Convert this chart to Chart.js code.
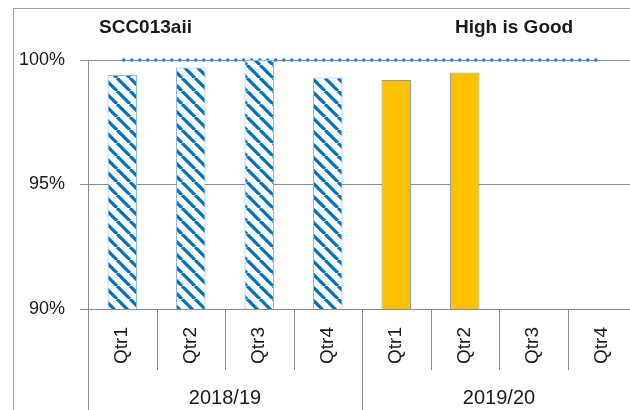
<!DOCTYPE html>
<html>
<head>
<meta charset="utf-8">
<script src="https://cdn.jsdelivr.net/npm/chart.js@4"></script>
<style>
  html, body { margin: 0; padding: 0; overflow: hidden; background: #fff; }
  #wrap { position: absolute; left: 0; top: 0; width: 650px; height: 430px; }
</style>
</head>
<body>
<div id="wrap"><canvas id="c" width="650" height="430"></canvas></div>
<script>
// data
const quarters = ['Qtr1', 'Qtr2', 'Qtr3', 'Qtr4', 'Qtr1', 'Qtr2', 'Qtr3', 'Qtr4'];
const years = ['2018/19', '2019/20'];
const values2018 = [99.4, 99.7, 100.0, 99.3];
const values2019 = [99.2, 99.5, null, null];
const target = [100, 100, 100, 100, 100, 100, 100, 100];
const yTicks = [90, 95, 100];
const titleLeft = 'SCC013aii';
const titleRight = 'High is Good';

const FONT = '"Liberation Sans", Arial, sans-serif';

function hatch() {
    const s = 13;
    const c = document.createElement('canvas');
    c.width = s; c.height = s;
    const g = c.getContext('2d');
    g.fillStyle = '#fff';
    g.fillRect(0, 0, s, s);
    g.strokeStyle = '#0070C0';
    g.lineWidth = 3.2;
    g.beginPath();
    for (let o = -s; o <= s; o += s) {
        g.moveTo(o, 0);
        g.lineTo(o + s, s);
    }
    g.stroke();
    return g.createPattern(c, 'repeat');
}

const pad = n => Array(n).fill(null);

const extras = {
    id: 'extras',
    afterDraw(chart) {
        const ctx = chart.ctx;
        const x = chart.scales.x;
        const area = chart.chartArea;
        const step = (x.right - x.left) / quarters.length;
        ctx.save();

        // outer frame
        ctx.strokeStyle = '#a6a6a6';
        ctx.lineWidth = 1;
        ctx.strokeRect(13.5, 8.5, 800, 600);

        // titles
        ctx.fillStyle = '#1a1a1a';
        ctx.font = 'bold 19px ' + FONT;
        ctx.textBaseline = 'alphabetic';
        ctx.textAlign = 'left';
        ctx.fillText(titleLeft, 99, 33);
        ctx.fillText(titleRight, 455, 33);

        // category dividers
        ctx.strokeStyle = '#8c8c8c';
        ctx.beginPath();
        ctx.moveTo(Math.round(x.left) + 0.5, area.bottom);
        ctx.lineTo(Math.round(x.left) + 0.5, 440);
        for (let i = 1; i < quarters.length; i++) {
            const px = Math.round(x.left + i * step) + 0.5;
            ctx.moveTo(px, area.bottom);
            ctx.lineTo(px, i % 4 === 0 ? 440 : area.bottom + 61);
        }
        ctx.stroke();

        // year labels
        ctx.font = '20px ' + FONT;
        ctx.textAlign = 'center';
        years.forEach((yr, k) => {
            const cx = (x.getPixelForValue(k * 4 + 1) + x.getPixelForValue(k * 4 + 2)) / 2;
            ctx.fillText(yr, cx, 404);
        });
        ctx.restore();
    }
};

new Chart(document.getElementById('c'), {
    type: 'bar',
    data: {
        labels: quarters,
        datasets: [
            {
                type: 'line',
                label: 'Target',
                data: target,
                borderColor: '#1f78c8',
                borderWidth: 3,
                borderDash: [3, 5],
                pointRadius: 0,
                fill: false,
                clip: false,
                order: 2
            },
            {
                label: years[0],
                data: values2018.concat(pad(4)),
                backgroundColor: hatch(),
                borderColor: '#8db8e2',
                borderWidth: 1,
                order: 1
            },
            {
                label: years[1],
                data: pad(4).concat(values2019),
                backgroundColor: '#FFC000',
                borderColor: '#86a3a3',
                borderWidth: 1,
                order: 1
            }
        ]
    },
    options: {
        responsive: false,
        animation: false,
        events: [],
        layout: { padding: { top: 60, right: 14, bottom: 60, left: 0 } },
        datasets: { bar: { grouped: false, categoryPercentage: 1, barPercentage: 0.43 } },
        plugins: { legend: { display: false }, tooltip: { enabled: false } },
        scales: {
            x: {
                offset: true,
                grid: { display: false, drawTicks: false },
                border: { display: false },
                ticks: {
                    autoSkip: false,
                    minRotation: 90,
                    maxRotation: 90,
                    padding: 18,
                    color: '#1a1a1a',
                    font: { family: FONT, size: 19 }
                },
                afterFit: s => { s.height = 61; }
            },
            y: {
                min: 90,
                max: 100,
                afterBuildTicks: s => { s.ticks = yTicks.map(v => ({ value: v })); },
                grid: { color: '#8c8c8c', lineWidth: 1, tickLength: 8 },
                border: { display: true, color: '#8c8c8c', width: 1 },
                ticks: {
                    padding: 15,
                    color: '#1a1a1a',
                    font: { family: FONT, size: 18 },
                    callback: v => v + '%'
                },
                afterFit: s => { s.width = 88; }
            }
        }
    },
    plugins: [extras]
});
</script>
</body>
</html>
